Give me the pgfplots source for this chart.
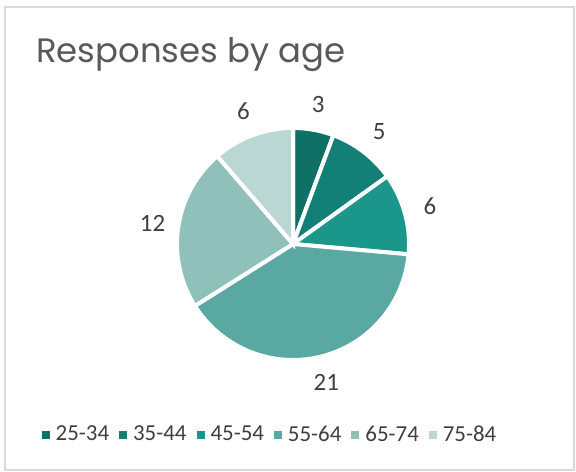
\documentclass[border=0pt]{standalone}
\usepackage{fontspec}
\setmainfont{Carlito}
\newfontfamily\titlefont{Poppins}
\usepackage{pgfplots}
\pgfplotsset{compat=1.18}
\usepackage{pgfplotstable}

\definecolor{cA}{HTML}{0F7066}
\definecolor{cB}{HTML}{128077}
\definecolor{cC}{HTML}{1A968B}
\definecolor{cD}{HTML}{5AA8A2}
\definecolor{cE}{HTML}{90C0BA}
\definecolor{cF}{HTML}{BAD7D3}
\definecolor{txt}{HTML}{404040}
\definecolor{ttl}{HTML}{595959}
\definecolor{frame}{HTML}{D9D9D9}

% responses by age group
\pgfplotstableread{
age   n
25-34 3
35-44 5
45-54 6
55-64 21
65-74 12
75-84 6
}\agedata

% cumulative counts: 0,3,8,14,35,47,53 (total 53); slices run clockwise from the top
\def\tot{53}
\pgfmathsetmacro\aA{90-(0/\tot)*360}
\pgfmathsetmacro\aB{90-(3/\tot)*360}
\pgfmathsetmacro\aC{90-(8/\tot)*360}
\pgfmathsetmacro\aD{90-(14/\tot)*360}
\pgfmathsetmacro\aE{90-(35/\tot)*360}
\pgfmathsetmacro\aF{90-(47/\tot)*360}
\pgfmathsetmacro\aG{90-(53/\tot)*360}
\def\cx{293}
\def\cy{228}
\def\R{116}
\def\L{142}

\begin{document}
\begin{tikzpicture}
\begin{axis}[
  width=288bp, height=236bp, scale only axis,
  xmin=0, xmax=576, ymin=0, ymax=472,
  hide axis, clip=false,
  legend columns=6,
  legend style={at={(axis cs:271,37)}, anchor=center, draw=none, fill=none,
    font=\fontsize{11.5}{13}\selectfont, text=txt,
    /tikz/every odd column/.append style={column sep=1bp},
    /tikz/every even column/.append style={column sep=3bp}},
  legend image code/.code={\draw[#1, draw=none] (0bp,-2bp) rectangle (4bp,2bp);},
]
\fill[white] (axis cs:0,0) rectangle (axis cs:576,472);
\draw[frame, line width=0.6bp] (axis cs:5,2) rectangle (axis cs:574,465);

\addplot[fill=cA, draw=white, line width=2bp, domain=\aB:\aA, samples=40, variable=\t, forget plot]
  ({\cx+\R*cos(\t)},{\cy+\R*sin(\t)}) -- (axis cs:\cx,\cy) -- cycle;
\addplot[fill=cB, draw=white, line width=2bp, domain=\aC:\aB, samples=40, variable=\t, forget plot]
  ({\cx+\R*cos(\t)},{\cy+\R*sin(\t)}) -- (axis cs:\cx,\cy) -- cycle;
\addplot[fill=cC, draw=white, line width=2bp, domain=\aD:\aC, samples=40, variable=\t, forget plot]
  ({\cx+\R*cos(\t)},{\cy+\R*sin(\t)}) -- (axis cs:\cx,\cy) -- cycle;
\addplot[fill=cD, draw=white, line width=2bp, domain=\aE:\aD, samples=90, variable=\t, forget plot]
  ({\cx+\R*cos(\t)},{\cy+\R*sin(\t)}) -- (axis cs:\cx,\cy) -- cycle;
\addplot[fill=cE, draw=white, line width=2bp, domain=\aF:\aE, samples=60, variable=\t, forget plot]
  ({\cx+\R*cos(\t)},{\cy+\R*sin(\t)}) -- (axis cs:\cx,\cy) -- cycle;
\addplot[fill=cF, draw=white, line width=2bp, domain=\aG:\aF, samples=40, variable=\t, forget plot]
  ({\cx+\R*cos(\t)},{\cy+\R*sin(\t)}) -- (axis cs:\cx,\cy) -- cycle;

% data labels, outside each slice
\pgfplotstablegetelem{0}{n}\of\agedata \let\vA\pgfplotsretval
\pgfplotstablegetelem{1}{n}\of\agedata \let\vB\pgfplotsretval
\pgfplotstablegetelem{2}{n}\of\agedata \let\vC\pgfplotsretval
\pgfplotstablegetelem{3}{n}\of\agedata \let\vD\pgfplotsretval
\pgfplotstablegetelem{4}{n}\of\agedata \let\vE\pgfplotsretval
\pgfplotstablegetelem{5}{n}\of\agedata \let\vF\pgfplotsretval
\begin{scope}[every node/.style={text=txt, font=\fontsize{12.5}{14}\selectfont}]
\node at (axis cs:{\cx+\L*cos((\aA+\aB)/2)},{\cy+\L*sin((\aA+\aB)/2)}) {\vA};
\node at (axis cs:{\cx+\L*cos((\aB+\aC)/2)},{\cy+\L*sin((\aB+\aC)/2)}) {\vB};
\node at (axis cs:{\cx+\L*cos((\aC+\aD)/2)},{\cy+\L*sin((\aC+\aD)/2)}) {\vC};
\node at (axis cs:{\cx+\L*cos((\aD+\aE)/2)},{\cy+\L*sin((\aD+\aE)/2)}) {\vD};
\node at (axis cs:{\cx+\L*cos((\aE+\aF)/2)},{\cy+\L*sin((\aE+\aF)/2)}) {\vE};
\node at (axis cs:{\cx+\L*cos((\aF+\aG)/2)},{\cy+\L*sin((\aF+\aG)/2)}) {\vF};
\end{scope}

\node[anchor=base west, text=ttl, font=\titlefont\fontsize{17}{20}\selectfont, inner sep=0pt]
  at (axis cs:36,409) {Responses by age};

\addlegendimage{fill=cA}
\addlegendimage{fill=cB}
\addlegendimage{fill=cC}
\addlegendimage{fill=cD}
\addlegendimage{fill=cE}
\addlegendimage{fill=cF}
\legend{25-34,35-44,45-54,55-64,65-74,75-84}
\end{axis}
\end{tikzpicture}
\end{document}
